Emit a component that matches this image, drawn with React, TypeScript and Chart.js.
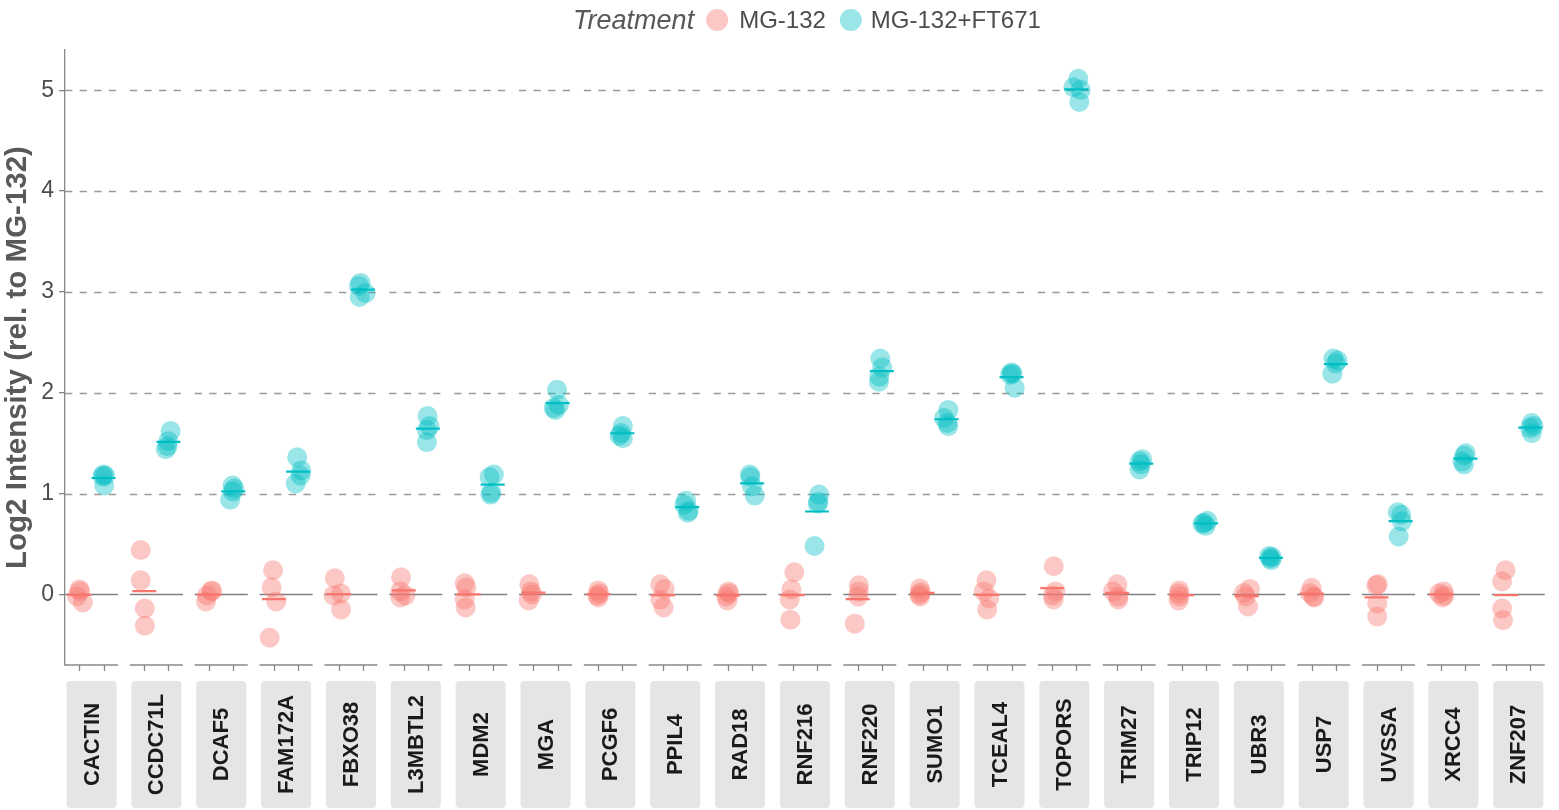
import React, { useEffect, useRef } from 'react';
import { Chart, registerables } from 'chart.js';

Chart.register(...registerables);

const FONT = "'Liberation Sans', Arial, Helvetica, sans-serif";

const genes = ['CACTIN', 'CCDC71L', 'DCAF5', 'FAM172A', 'FBXO38', 'L3MBTL2', 'MDM2', 'MGA', 'PCGF6', 'PPIL4', 'RAD18', 'RNF216', 'RNF220', 'SUMO1', 'TCEAL4', 'TOPORS', 'TRIM27', 'TRIP12', 'UBR3', 'USP7', 'UVSSA', 'XRCC4', 'ZNF207'];

const treatments = ['MG-132', 'MG-132+FT671'];
const yTicks = [0, 1, 2, 3, 4, 5];
const yTitle = 'Log2 Intensity (rel. to MG-132)';
const legendTitle = 'Treatment';

// Log2 intensity values, 4 replicates per gene
const mg132Values = [
  [0.05, 0.03, -0.02, -0.08],
  [0.44, 0.14, -0.14, -0.31],
  [0.04, 0.03, -0.01, -0.07],
  [0.24, 0.07, -0.07, -0.43],
  [0.16, 0.01, -0.01, -0.15],
  [0.17, 0.03, -0.01, -0.03],
  [0.11, 0.07, -0.05, -0.13],
  [0.10, 0.03, 0.0, -0.06],
  [0.04, 0.01, -0.01, -0.03],
  [0.10, 0.055, -0.05, -0.13],
  [0.03, 0.01, -0.02, -0.06],
  [0.22, 0.05, -0.05, -0.25],
  [0.09, 0.03, -0.02, -0.29],
  [0.06, 0.02, 0.0, -0.02],
  [0.14, 0.03, -0.04, -0.15],
  [0.28, 0.03, -0.01, -0.05],
  [0.10, 0.03, -0.02, -0.05],
  [0.04, 0.01, -0.02, -0.06],
  [0.055, 0.015, -0.02, -0.12],
  [0.065, 0.015, -0.02, -0.03],
  [0.10, 0.09, -0.09, -0.22],
  [0.03, 0.01, -0.01, -0.03],
  [0.24, 0.13, -0.14, -0.255],
];

const ft671Values = [
  [1.19, 1.18, 1.17, 1.08],
  [1.62, 1.52, 1.47, 1.44],
  [1.08, 1.05, 1.02, 0.94],
  [1.36, 1.23, 1.18, 1.10],
  [3.09, 3.06, 2.99, 2.95],
  [1.77, 1.67, 1.63, 1.51],
  [1.19, 1.165, 1.01, 0.99],
  [2.03, 1.88, 1.85, 1.83],
  [1.67, 1.60, 1.575, 1.55],
  [0.93, 0.89, 0.83, 0.81],
  [1.19, 1.165, 1.07, 0.98],
  [0.99, 0.92, 0.90, 0.48],
  [2.34, 2.25, 2.16, 2.11],
  [1.83, 1.75, 1.70, 1.67],
  [2.20, 2.19, 2.18, 2.05],
  [5.115, 5.03, 5.005, 4.885],
  [1.34, 1.32, 1.29, 1.24],
  [0.73, 0.71, 0.70, 0.68],
  [0.38, 0.37, 0.36, 0.34],
  [2.34, 2.32, 2.29, 2.19],
  [0.815, 0.79, 0.725, 0.575],
  [1.40, 1.375, 1.32, 1.29],
  [1.70, 1.67, 1.65, 1.60],
];

// horizontal jitter (in category units)
const mg132Jitter = [
  [0, 0.02, -0.1, 0.14], [-0.15, -0.15, 0.02, 0.02], [0.12, 0.09, -0.09, -0.13], [-0.04, -0.1, 0.09, -0.18],
  [-0.17, 0.08, -0.22, 0.09], [-0.11, -0.14, 0.07, -0.14], [-0.16, -0.09, -0.16, -0.12], [-0.17, -0.1, -0.06, -0.2],
  [0, 0.04, -0.03, 0], [-0.12, 0.06, -0.12, 0.02], [0.02, 0.04, -0.07, -0.02], [0.06, -0.06, -0.13, -0.1],
  [0.05, 0.05, 0.02, -0.12], [-0.11, -0.07, -0.13, -0.1], [-0.04, -0.15, 0.07, -0.01], [0.06, 0.13, 0.02, 0.06],
  [0.01, -0.17, 0.04, 0.05], [-0.11, -0.14, -0.11, -0.14], [0.13, -0.12, -0.05, 0.05], [0, -0.07, 0.07, 0.11],
  [0.06, -0.01, 0.03, 0.03], [0.09, -0.09, 0.12, 0.05], [-0.03, -0.17, -0.17, -0.13],
];
const ft671Jitter = [
  [-0.01, 0.06, -0.04, 0.03], [0.09, -0.01, -0.04, -0.11], [-0.03, 0.04, -0.02, -0.13], [-0.04, 0.13, 0.1, -0.1],
  [-0.1, -0.17, 0.11, -0.14], [-0.01, 0.07, -0.04, -0.04], [0.05, -0.13, -0.06, -0.09], [-0.02, 0.05, -0.16, -0.09],
  [0.02, -0.05, -0.12, 0.02], [-0.05, -0.12, 0.06, 0.02], [-0.09, -0.07, 0, 0.11], [0.09, 0.06, 0.03, -0.1],
  [-0.06, 0.02, -0.1, -0.12], [0.07, -0.11, 0.03, 0.07], [0.0, 0.04, -0.05, 0.13], [0.08, -0.12, 0.18, 0.12],
  [0.04, -0.07, -0.01, -0.07], [0.05, -0.08, -0.15, -0.02], [-0.07, 0.04, -0.03, 0.01], [-0.1, 0.07, 0, -0.14],
  [-0.12, 0.02, 0.05, -0.08], [0.01, -0.06, -0.13, -0.06], [0.06, 0.13, -0.01, 0.06],
];

const RED = '#F8766D';
const CYAN = '#00BFC4';
const RED_A = 'rgba(248,118,109,0.4)';
const CYAN_A = 'rgba(0,191,196,0.4)';

const PITCH = 2.69; // facet spacing in category units
const catX = (panel: number, t: number) => panel * PITCH + 1 + t;

export default function App() {
  const ref = useRef<HTMLCanvasElement | null>(null);

  useEffect(() => {
    document.body.style.margin = '0';
    const canvas = ref.current!;

    const toPoints = (vals: number[][], jit: number[][], t: number) =>
      vals.flatMap((g, i) => g.map((v, k) => ({ x: catX(i, t) + jit[i][k], y: v })));
    const toMeans = (vals: number[][], t: number) =>
      vals.map((g, i) => ({ x: catX(i, t), y: g.reduce((a, b) => a + b, 0) / g.length }));

    const facetPlugin = {
      id: 'facets',
      beforeDatasetsDraw(chart: any) {
        const { ctx, scales } = chart;
        const xs = scales.x, ys = scales.y;
        ctx.save();
        genes.forEach((_, i) => {
          const x0 = xs.getPixelForValue(i * PITCH + 0.4);
          const x1 = xs.getPixelForValue(i * PITCH + 2.6);
          yTicks.forEach((v) => {
            const py = Math.round(ys.getPixelForValue(v)) + 0.5;
            ctx.beginPath();
            if (v === 0) {
              ctx.setLineDash([]);
              ctx.strokeStyle = '#808080';
            } else {
              ctx.setLineDash([7.3, 7.3]);
              ctx.strokeStyle = '#999999';
            }
            ctx.lineWidth = 1.5;
            ctx.moveTo(x0, py);
            ctx.lineTo(x1, py);
            ctx.stroke();
          });
        });
        ctx.restore();
      },
      afterDraw(chart: any) {
        const { ctx, scales, chartArea } = chart;
        const xs = scales.x;
        const bottom = chartArea.bottom;
        ctx.save();
        ctx.setLineDash([]);
        genes.forEach((g, i) => {
          const x0 = xs.getPixelForValue(i * PITCH + 0.4);
          const x1 = xs.getPixelForValue(i * PITCH + 2.6);
          // axis line
          ctx.strokeStyle = '#888888';
          ctx.lineWidth = 1.3;
          ctx.beginPath();
          ctx.moveTo(i === 0 ? x0 - 0.6 : x0, bottom);
          ctx.lineTo(x1, bottom);
          ctx.stroke();
          // ticks
          [0, 1].forEach((t) => {
            const tx = Math.round(xs.getPixelForValue(catX(i, t))) + 0.5;
            ctx.beginPath();
            ctx.moveTo(tx, bottom);
            ctx.lineTo(tx, bottom + 6);
            ctx.stroke();
          });
          // strip
          const sx = x0 + 1.5, sw = x1 - x0 - 3;
          const sy = bottom + 16, sh = 127;
          ctx.fillStyle = '#e5e5e5';
          ctx.beginPath();
          (ctx as any).roundRect(sx, sy, sw, sh, 4);
          ctx.fill();
          ctx.save();
          ctx.translate(sx + sw / 2, sy + sh / 2);
          ctx.rotate(-Math.PI / 2);
          ctx.fillStyle = '#1a1a1a';
          ctx.font = `bold 22px ${FONT}`;
          ctx.textAlign = 'center';
          ctx.textBaseline = 'middle';
          ctx.fillText(g, 0, 1);
          ctx.restore();
        });

        // legend
        const ly = 21;
        ctx.textBaseline = 'middle';
        ctx.textAlign = 'left';
        ctx.font = `italic 27px ${FONT}`;
        const wTitle = ctx.measureText(legendTitle).width;
        ctx.font = `24px ${FONT}`;
        const w1 = ctx.measureText(treatments[0]).width;
        const w2 = ctx.measureText(treatments[1]).width;
        const r = 11;
        const total = wTitle + 12 + 2 * r + 11 + w1 + 14 + 2 * r + 9 + w2;
        let x = 807 - total / 2;
        ctx.font = `italic 27px ${FONT}`;
        ctx.fillStyle = '#595959';
        ctx.fillText(legendTitle, x, ly);
        x += wTitle + 12;
        ctx.fillStyle = RED_A;
        ctx.beginPath();
        ctx.arc(x + r, ly - 1, r, 0, Math.PI * 2);
        ctx.fill();
        x += 2 * r + 11;
        ctx.font = `24px ${FONT}`;
        ctx.fillStyle = '#4d4d4d';
        ctx.fillText(treatments[0], x, ly);
        x += w1 + 14;
        ctx.fillStyle = CYAN_A;
        ctx.beginPath();
        ctx.arc(x + r, ly - 1, r, 0, Math.PI * 2);
        ctx.fill();
        x += 2 * r + 9;
        ctx.fillStyle = '#4d4d4d';
        ctx.fillText(treatments[1], x, ly);
        ctx.restore();
      },
    };

    const chart = new Chart(canvas, {
      type: 'scatter',
      data: {
        datasets: [
          {
            label: treatments[0] + ' mean',
            data: toMeans(mg132Values, 0),
            pointStyle: 'line',
            pointRadius: 12,
            borderColor: RED,
            backgroundColor: RED,
            borderWidth: 2.2,
            order: 0,
          },
          {
            label: treatments[1] + ' mean',
            data: toMeans(ft671Values, 1),
            pointStyle: 'line',
            pointRadius: 12,
            borderColor: CYAN,
            backgroundColor: CYAN,
            borderWidth: 2.2,
            order: 0,
          },
          {
            label: treatments[0],
            data: toPoints(mg132Values, mg132Jitter, 0),
            pointRadius: 10,
            backgroundColor: RED_A,
            borderWidth: 0,
            order: 1,
          },
          {
            label: treatments[1],
            data: toPoints(ft671Values, ft671Jitter, 1),
            pointRadius: 10,
            backgroundColor: CYAN_A,
            borderWidth: 0,
            order: 1,
          },
        ] as any,
      },
      options: {
        responsive: false,
        animation: false,
        events: [],
        layout: { padding: { top: 50, bottom: 145, right: 4, left: 0 } },
        plugins: { legend: { display: false }, tooltip: { enabled: false } },
        scales: {
          x: {
            type: 'linear',
            min: 0.4,
            max: 22 * PITCH + 2.6,
            display: false,
          },
          y: {
            type: 'linear',
            min: -0.7,
            max: 5.4,
            afterBuildTicks: (scale: any) => {
              scale.ticks = yTicks.map((v) => ({ value: v }));
            },
            afterFit: (scale: any) => {
              scale.width = 65;
            },
            ticks: {
              font: { family: FONT, size: 23 },
              color: '#4d4d4d',
              padding: 5,
            },
            grid: {
              display: true,
              drawOnChartArea: false,
              drawTicks: true,
              tickLength: 6,
              color: '#888888',
              lineWidth: 1.3,
            },
            border: { display: true, color: '#888888', width: 1.3 },
            title: {
              display: true,
              text: yTitle,
              font: { family: FONT, size: 29.5, weight: 'bold' },
              color: '#595959',
              padding: { top: 0, bottom: 0 },
            },
          },
        },
      } as any,
      plugins: [facetPlugin],
    });

    return () => chart.destroy();
  }, []);

  return (
    <div style={{ width: 1559, height: 810 }}>
      <canvas ref={ref} width={1559} height={810} style={{ display: 'block' }} />
    </div>
  );
}
